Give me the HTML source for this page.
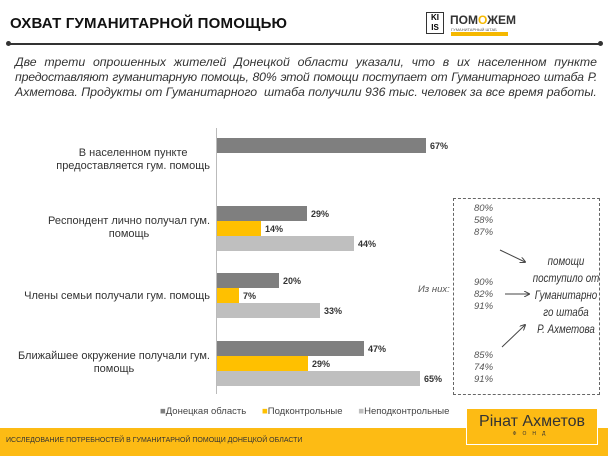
<!DOCTYPE html>
<html><head><meta charset="utf-8"><style>
*{margin:0;padding:0;box-sizing:border-box}
body{width:608px;height:456px;background:#fff;position:relative;overflow:hidden;font-family:"Liberation Sans","DejaVu Sans",sans-serif}
.a{position:absolute}
.bar{position:absolute;left:217px;height:15px}
.v{position:absolute;font-size:9px;font-weight:bold;color:#333}
.lab{position:absolute;right:398px;text-align:center;font-size:11px;color:#333;line-height:13px;white-space:nowrap}
.i{position:absolute;font-size:9.5px;font-style:italic;color:#555;line-height:12px}
</style></head><body>
<div class="a" style="left:10px;top:15px;font-size:15px;font-weight:bold;color:#111;letter-spacing:0.2px">ОХВАТ ГУМАНИТАРНОЙ ПОМОЩЬЮ</div>
<div class="a" style="left:8px;top:43px;width:592px;height:1.5px;background:#333"></div>
<div class="a" style="left:6px;top:41px;width:5px;height:5px;border-radius:50%;background:#333"></div>
<div class="a" style="left:598px;top:41px;width:5px;height:5px;border-radius:50%;background:#333"></div>
<div class="a" style="left:426px;top:12px;width:18px;height:22px;border:1.5px solid #333;font-size:8px;font-weight:bold;text-align:center;line-height:10px">KI<br>IS</div>
<div class="a" style="left:450px;top:13px;font-size:12px;font-weight:bold;color:#333">ПОМ<span style="color:#f5b800">О</span>ЖЕМ</div>
<div class="a" style="left:451px;top:27px;font-size:4px;color:#555">ГУМАНИТАРНЫЙ ШТАБ</div>
<div class="a" style="left:451px;top:32px;width:57px;height:4px;background:#f5b800"></div>
<div class="a" style="left:15px;top:55px;width:582px;font-size:12.3px;font-style:italic;color:#333;line-height:15px">
<div style="text-align:justify;text-align-last:justify">Две трети опрошенных жителей Донецкой области указали, что в их населенном пункте</div>
<div style="text-align:justify;text-align-last:justify;letter-spacing:-0.2px">предоставляют гуманитарную помощь, 80% этой помощи поступает от Гуманитарного штаба Р.</div>
<div style="white-space:nowrap">Ахметова. Продукты от Гуманитарного&nbsp; штаба получили 936 тыс. человек за все время работы.</div></div>
<div class="a" style="left:216px;top:128px;width:1px;height:266px;background:#bbb"></div>
<div class="lab" style="top:147px">В населенном пункте<br>предоставляется гум. помощь</div>
<div class="lab" style="top:215px">Респондент лично получал гум.<br>помощь</div>
<div class="lab" style="top:290px">Члены семьи получали гум. помощь</div>
<div class="lab" style="top:350px">Ближайшее окружение получали гум.<br>помощь</div>
<div class="bar" style="top:138px;width:209px;background:#7f7f7f"></div><div class="v" style="left:430px;top:141px">67%</div>
<div class="bar" style="top:206px;width:90px;background:#7f7f7f"></div><div class="v" style="left:311px;top:209px">29%</div>
<div class="bar" style="top:221px;width:44px;background:#ffc000"></div><div class="v" style="left:265px;top:224px">14%</div>
<div class="bar" style="top:236px;width:137px;background:#bfbfbf"></div><div class="v" style="left:358px;top:239px">44%</div>
<div class="bar" style="top:273px;width:62px;background:#7f7f7f"></div><div class="v" style="left:283px;top:276px">20%</div>
<div class="bar" style="top:288px;width:22px;background:#ffc000"></div><div class="v" style="left:243px;top:291px">7%</div>
<div class="bar" style="top:303px;width:103px;background:#bfbfbf"></div><div class="v" style="left:324px;top:306px">33%</div>
<div class="bar" style="top:341px;width:147px;background:#7f7f7f"></div><div class="v" style="left:368px;top:344px">47%</div>
<div class="bar" style="top:356px;width:91px;background:#ffc000"></div><div class="v" style="left:312px;top:359px">29%</div>
<div class="bar" style="top:371px;width:203px;background:#bfbfbf"></div><div class="v" style="left:424px;top:374px">65%</div>
<div class="a" style="left:453px;top:198px;width:147px;height:197px;border:1px dashed #666"></div>
<div class="i" style="left:474px;top:203px">80%<br>58%<br>87%</div>
<div class="i" style="left:474px;top:277px">90%<br>82%<br>91%</div>
<div class="i" style="left:474px;top:350px">85%<br>74%<br>91%</div>
<div class="i" style="left:418px;top:284px">Из них:</div>
<div class="a" style="left:526px;top:254px;width:80px;text-align:center;font-size:11.5px;font-style:italic;color:#333;line-height:17px;white-space:nowrap;transform:scaleX(0.85);transform-origin:center top">помощи<br>поступило от<br>Гуманитарно<br>го штаба<br>Р. Ахметова</div>
<svg class="a" style="left:490px;top:240px" width="50" height="120"><defs><marker id="m" markerWidth="6" markerHeight="6" refX="5" refY="3" orient="auto"><path d="M0,0L6,3L0,6" fill="none" stroke="#444" stroke-width="1"/></marker></defs>
<line x1="10" y1="10" x2="35" y2="22" stroke="#444" marker-end="url(#m)"/>
<line x1="15" y1="54" x2="39" y2="54" stroke="#444" marker-end="url(#m)"/>
<line x1="12" y1="107" x2="35" y2="85" stroke="#444" marker-end="url(#m)"/></svg>
<div class="a" style="left:160px;top:406px;font-size:9.5px;color:#444;white-space:nowrap"><span style="color:#7f7f7f">■</span>Донецкая область &nbsp;&nbsp;&nbsp;&nbsp; <span style="color:#ffc000">■</span>Подконтрольные &nbsp;&nbsp;&nbsp;&nbsp; <span style="color:#bfbfbf">■</span>Неподконтрольные</div>
<div class="a" style="left:0;top:428px;width:608px;height:28px;background:#fdbb14"></div>
<div class="a" style="left:6px;top:437px;font-size:7px;color:#333">ИССЛЕДОВАНИЕ ПОТРЕБНОСТЕЙ В ГУМАНИТАРНОЙ ПОМОЩИ ДОНЕЦКОЙ ОБЛАСТИ</div>
<div class="a" style="left:466px;top:408px;width:132px;height:37px;background:#fdbb14;border:1.5px solid #fff;text-align:center">
<div style="font-size:16px;color:#333;margin-top:4px">Рінат Ахметов</div>
<div style="font-size:5px;color:#333;letter-spacing:6px">ФОНД</div></div>
</body></html>
